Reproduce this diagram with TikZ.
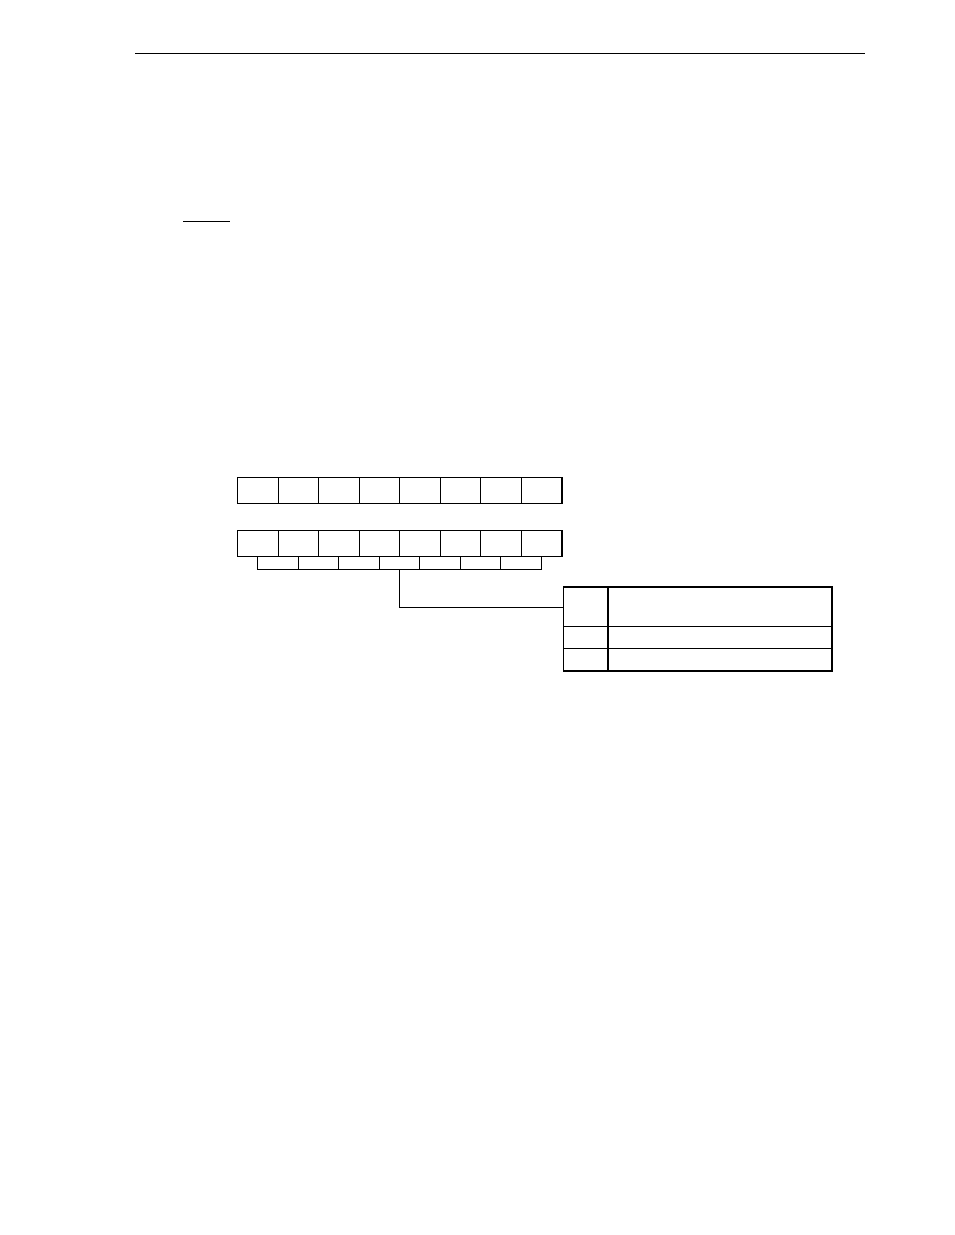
\documentclass[tikz,border=0pt]{standalone}
\begin{document}
\begin{tikzpicture}[x=1pt,y=-1pt,
  thin line/.style={line width=0.9pt},
  thick line/.style={line width=1.8pt},
  cell/.style={draw, thin line, inner sep=0pt, minimum width=40.5pt, minimum height=26pt, anchor=north west},
  subcell/.style={draw, thin line, inner sep=0pt, minimum width=40.5pt, minimum height=13pt, anchor=north west},
  tcell/.style={draw, thin line, inner sep=0pt, anchor=north west}
]
\useasboundingbox (0,0) rectangle (954,1235);
% header rule and short underline
\draw[thin line] (135,53) -- (865,53);
\draw[thin line] (183,221) -- (230,221);
% register 1
\foreach \i in {0,...,7} {
  \node[cell] (a\i) at ({237+40.5*\i},477) {};
}
\draw[thick line] (a7.north east) -- (a7.south east);
% register 2
\foreach \i in {0,...,7} {
  \node[cell] (b\i) at ({237+40.5*\i},530) {};
}
\draw[thick line] (b7.north east) -- (b7.south east);
% sub-boxes
\foreach \i in {0,...,6} {
  \node[subcell] (s\i) at ({257+40.5*\i},556) {};
}
% table
\node[tcell, minimum width=44.5pt, minimum height=39pt] (t1a) at (563,587) {};
\node[tcell, minimum width=223.5pt, minimum height=39pt] (t1b) at (607.5,587) {};
\node[tcell, minimum width=44.5pt, minimum height=22pt] (t2a) at (563,626) {};
\node[tcell, minimum width=223.5pt, minimum height=22pt] (t2b) at (607.5,626) {};
\node[tcell, minimum width=44.5pt, minimum height=22pt] (t3a) at (563,648) {};
\node[tcell, minimum width=223.5pt, minimum height=22pt] (t3b) at (607.5,648) {};
\draw[thick line] (t1a.north west) -- (t1b.north east) -- (t3b.south east) -- (t3a.south west);
\draw[thin line] (t3a.south west) -- (t1a.north west);
\draw[thick line] (t1b.north west) -- (t3b.south west);
% connector
\draw[thin line] (s3.south) |- (t1a.west);
\end{tikzpicture}
\end{document}
